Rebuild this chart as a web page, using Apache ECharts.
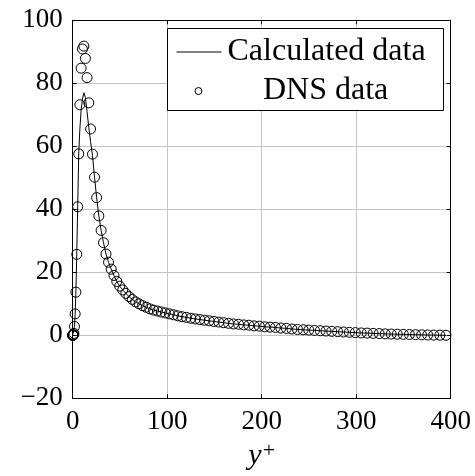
<!DOCTYPE html>
<html><head><meta charset="utf-8">
<script src="https://cdn.jsdelivr.net/npm/echarts@6/dist/echarts.min.js"></script>
<style>html,body{margin:0;padding:0;background:#fff}#c{width:475px;height:476px}</style>
</head><body><div id="c"></div>
<script>
// wall distance y+ (DNS grid points)
const yPlus = [0,0.05,0.21,0.48,0.85,1.32,1.90,2.59,3.38,4.28,5.28,6.38,7.59,8.90,10.32,11.84,13.46,15.18,17.01,18.94,
  20.96,23.09,25.32,27.65,30.07,32.59,35.21,37.92,40.74,43.64,46.64,49.73,52.92,56.20,59.56,63.02,66.57,70.21,73.93,77.73,
  81.63,85.60,89.66,93.80,98.02,102.32,106.71,111.16,115.69,120.30,124.98,129.73,134.56,139.45,144.42,149.44,154.54,159.70,164.92,170.21,
  175.55,180.95,186.41,191.93,197.5,203.12,208.80,214.52,220.30,226.11,231.97,237.88,243.84,249.83,255.86,261.93,268.03,274.16,280.34,286.54,
  292.77,299.02,305.31,311.60,317.94,324.29,330.65,337.04,343.44,349.86,356.28,362.72,369.17,375.62,382.08,388.54,395];
const dnsData = [0,0,0.01,0.05,0.2,0.6,2.8,6.8,13.7,25.7,40.8,57.6,73.2,84.8,90.9,91.8,87.9,81.8,73.8,65.5,
  57.5,50.2,43.7,37.9,33.3,29.4,25.8,23.2,21.0,19.0,17.1,15.6,14.4,13.3,12.3,11.4,10.6,10.0,9.4,8.9,
  8.4,8.0,7.7,7.4,7.1,6.8,6.5,6.2,5.9,5.7,5.4,5.2,5.0,4.8,4.6,4.4,4.2,4.0,3.8,3.6,
  3.5,3.3,3.2,3.0,2.9,2.7,2.6,2.5,2.3,2.2,2.0,1.85,1.75,1.65,1.55,1.45,1.35,1.25,1.15,1.05,
  0.95,0.85,0.75,0.7,0.6,0.55,0.45,0.4,0.35,0.3,0.25,0.2,0.15,0.1,0.07,0.03,0];
const calcData = [0,0,0.01,0.05,0.2,0.6,2.8,6.8,13.7,25.7,40.8,57.6,65.5,71.5,75.0,77.0,75.5,71.0,66.0,61.5,
  57.0,50.2,43.7,37.9,33.3,29.4,25.8,23.2,21.0,19.0,17.1,15.6,14.4,13.3,12.3,11.4,10.6,10.0,9.4,8.9,
  8.4,8.0,7.7,7.4,7.1,6.8,6.5,6.2,5.9,5.7,5.4,5.2,5.0,4.8,4.6,4.4,4.2,4.0,3.8,3.6,
  3.5,3.3,3.2,3.0,2.9,2.7,2.6,2.5,2.3,2.2,2.0,1.85,1.75,1.65,1.55,1.45,1.35,1.25,1.15,1.05,
  0.95,0.85,0.75,0.7,0.6,0.55,0.45,0.4,0.35,0.3,0.25,0.2,0.15,0.1,0.07,0.03,0];
const seriesNames = ['Calculated data', 'DNS data'];
const xRange = [0, 400, 100];
const yRange = [-20, 100, 20];

const FONT = 'Liberation Serif';
const fmt = v => v < 0 ? '\u2212' + (-v) : String(v);
const chart = echarts.init(document.getElementById('c'), null, {renderer: 'canvas'});
const axisCommon = {
  type: 'value',
  axisLine: {show: true, onZero: false, lineStyle: {color: '#000', width: 1}},
  axisTick: {show: true, inside: true, length: 4, lineStyle: {color: '#000', width: 1}}
};
chart.setOption({
  animation: false,
  backgroundColor: '#fff',
  grid: {left: 72.7, right: 24.3, top: 20.3, bottom: 77.7, containLabel: false, outerBoundsMode: 'none'},
  xAxis: [
    Object.assign({}, axisCommon, {
      position: 'bottom', min: xRange[0], max: xRange[1], interval: xRange[2],
      axisLabel: {fontFamily: FONT, fontSize: 27, color: '#000', margin: 10, formatter: fmt},
      splitLine: {show: true, lineStyle: {color: '#c4c4c4', width: 1}},
      name: '{i|y}{s|+}', nameLocation: 'middle', nameGap: 42,
      nameTextStyle: {rich: {
        i: {fontFamily: FONT, fontStyle: 'italic', fontSize: 30, color: '#000', lineHeight: 32},
        s: {fontFamily: FONT, fontSize: 22, color: '#000', verticalAlign: 'top', lineHeight: 32, padding: [0, 0, 14, 1]}
      }}
    }),
    Object.assign({}, axisCommon, {
      position: 'top', min: xRange[0], max: xRange[1], interval: xRange[2],
      axisLabel: {show: false}, splitLine: {show: false}
    })
  ],
  yAxis: [
    Object.assign({}, axisCommon, {
      position: 'left', min: yRange[0], max: yRange[1], interval: yRange[2],
      axisLabel: {fontFamily: FONT, fontSize: 27, color: '#000', margin: 10, formatter: fmt},
      splitLine: {show: true, lineStyle: {color: '#c4c4c4', width: 1}}
    }),
    Object.assign({}, axisCommon, {
      position: 'right', min: yRange[0], max: yRange[1], interval: yRange[2],
      axisLabel: {show: false}, splitLine: {show: false}
    })
  ],
  legend: [
    {
      data: [seriesNames[0]], left: 176.5, top: 35, padding: 0, selectedMode: false,
      icon: 'rect', itemWidth: 45, itemHeight: 1.2, itemStyle: {color: '#000', borderWidth: 0},
      textStyle: {fontFamily: FONT, fontSize: 32, color: '#000', lineHeight: 34, padding: [0, 0, 0, 1]}
    },
    {
      data: [seriesNames[1]], left: 194.5, top: 74, padding: 0, selectedMode: false,
      icon: 'circle', itemWidth: 7, itemHeight: 7,
      itemStyle: {color: '#fff', borderColor: '#000', borderWidth: 1},
      textStyle: {fontFamily: FONT, fontSize: 32, color: '#000', lineHeight: 34, padding: [0, 0, 0, 56]}
    }
  ],
  graphic: [{
    type: 'rect', z: 3, silent: true,
    shape: {x: 167.5, y: 28.5, width: 276, height: 82},
    style: {fill: '#fff', stroke: '#000', lineWidth: 1}
  }],
  series: [
    {
      name: seriesNames[0], type: 'line', xAxisIndex: 0, yAxisIndex: 0,
      data: yPlus.map((x, i) => [x, calcData[i]]),
      showSymbol: false, symbol: 'none',
      lineStyle: {color: '#000', width: 1}, itemStyle: {color: '#000'}, z: 2
    },
    {
      name: seriesNames[1], type: 'scatter', xAxisIndex: 0, yAxisIndex: 0,
      data: yPlus.map((x, i) => [x, dnsData[i]]),
      symbol: 'circle', symbolSize: 10,
      itemStyle: {color: 'rgba(255,255,255,0)', borderColor: '#000', borderWidth: 1, opacity: 1}, z: 3
    }
  ]
});
</script></body></html>
